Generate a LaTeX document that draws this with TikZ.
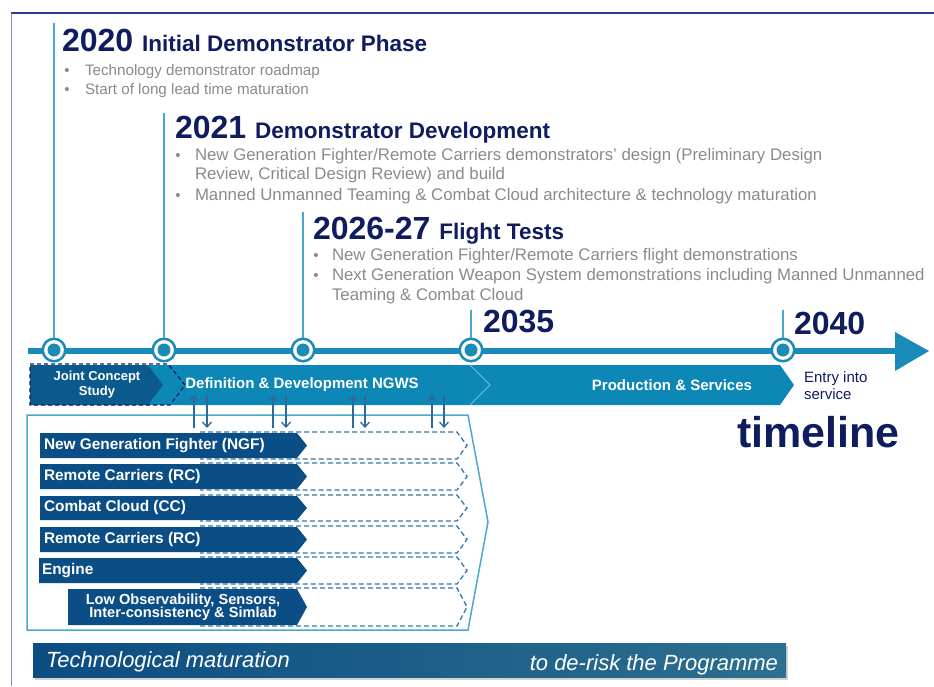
\documentclass[tikz,border=0pt]{standalone}
\usepackage{fontspec}
\setmainfont{Liberation Sans}
\usetikzlibrary{arrows.meta,shadows}
\definecolor{navy}{HTML}{0F1C5E}
\definecolor{tl}{HTML}{1A8AB8}
\definecolor{vline}{HTML}{45A6CE}
\definecolor{barc}{HTML}{0D87B5}
\definecolor{sepc}{HTML}{6CC0E0}
\definecolor{jcs}{HTML}{0B5A8E}
\definecolor{rowc}{HTML}{0B4E86}
\definecolor{grayt}{HTML}{8A8A8A}
\definecolor{dashc}{HTML}{2F78AD}
\definecolor{boxc}{HTML}{4AA8D0}
\definecolor{arrc}{HTML}{2D6A9C}
\definecolor{frametop}{HTML}{2B3A87}
\definecolor{frameleft}{HTML}{8888C0}
\definecolor{banl}{HTML}{0B4D82}
\definecolor{banr}{HTML}{2D6F8E}
\newcommand{\myfs}[1]{\fontsize{#1}{#1}\selectfont}
\begin{document}
\begin{tikzpicture}[x=1pt,y=-1pt,
  txt/.style={inner sep=0pt, outer sep=0pt},
  yearhead/.style={txt, anchor=base west, text=navy},
  bul/.style={txt, anchor=base west, text=grayt, font=\myfs{16.8}},
  bulsmall/.style={txt, anchor=base west, text=grayt, font=\myfs{15.2}},
  bulmark/.style={txt, anchor=base, text=grayt, font=\myfs{15}},
  rowlbl/.style={txt, anchor=west, text=white, font=\myfs{15.4}\bfseries},
  barlbl/.style={txt, text=white, font=\myfs{15}\bfseries},
  dotring/.style={circle, draw=tl, line width=2.5pt, fill=white, minimum size=22.5pt, inner sep=0pt},
  vl/.style={vline, line width=1.8pt},
  rowfill/.style={fill=rowc},
  rowdash/.style={draw=dashc, line width=1.3pt, dash pattern=on 5pt off 3pt},
  arr/.style={arrc, line width=1.3pt, -{Straight Barb[length=5pt,width=9pt]}},
  banner/.style={left color=banl, right color=banr, drop shadow={opacity=0.35, shadow xshift=2pt, shadow yshift=-3pt}},
]
\useasboundingbox (0,0) rectangle (934,686);
% frame
\draw[frametop, line width=1.5pt] (11,13) -- (934,13);
\draw[frameleft, line width=1pt] (11,13) -- (11,686);

% timeline axis
\coordinate (axs) at (28,351);
\coordinate (axe) at (900,351);
\draw[tl, line width=6pt] (axs) -- (axe);
\fill[tl] (895,332) -- (929,351) -- (895,371) -- cycle;

% vertical lines tops
\coordinate (v1) at (54,23);
\coordinate (v2) at (164,113);
\coordinate (v3) at (303,212);
\coordinate (v4) at (471,310);
\coordinate (v5) at (783,310);
\node[dotring] (c1) at (54,350) {};
\node[dotring] (c2) at (164,350) {};
\node[dotring] (c3) at (303,350) {};
\node[dotring] (c4) at (471,350) {};
\node[dotring] (c5) at (783,350) {};
\foreach \i in {1,...,5}{
  \draw[vl] (v\i) -- (c\i.north);
  \fill[tl] (c\i.center) circle (6.5);
}

% headings
\node[yearhead] (h1) at (62,51) {\myfs{32}\bfseries 2020\hspace{9pt}\myfs{22.5}Initial Demonstrator Phase};
\node[bulmark] (b11) at (67,75) {•};
\node[bulsmall] (t11) at (85,75) {Technology demonstrator roadmap};
\node[bulmark] (b12) at (67,94) {•};
\node[bulsmall] (t12) at (85,94) {Start of long lead time maturation};

\node[yearhead] (h2) at (175,138) {\myfs{32}\bfseries 2021\hspace{9pt}\myfs{22.5}Demonstrator Development};
\node[bulmark] (b21) at (178,160) {•};
\node[bul] (t21) at (195,160) {New Generation Fighter/Remote Carriers demonstrators’ design (Preliminary Design};
\node[bul] (t22) at (195,179) {Review, Critical Design Review) and build};
\node[bulmark] (b23) at (178,200) {•};
\node[bul] (t23) at (195,200) {Manned Unmanned Teaming \& Combat Cloud architecture \& technology maturation};

\node[yearhead] (h3) at (313,239) {\myfs{32}\bfseries 2026-27\hspace{9pt}\myfs{22.5}Flight Tests};
\node[bulmark] (b31) at (316,260) {•};
\node[bul] (t31) at (332,260) {New Generation Fighter/Remote Carriers flight demonstrations};
\node[bulmark] (b32) at (316,280) {•};
\node[bul] (t32) at (332,280) {Next Generation Weapon System demonstrations including Manned Unmanned};
\node[bul] (t33) at (332,300) {Teaming \& Combat Cloud};

\node[yearhead] (h4) at (483,332) {\myfs{32}\bfseries 2035};
\node[yearhead] (h5) at (794,334) {\myfs{32}\bfseries 2040};

% phase bar
\fill[barc] (30,365) -- (780,365) -- (794,385) -- (780,405) -- (30,405) -- cycle;
\draw[sepc, line width=1pt] (470,365) -- (490,385) -- (470,405);
\fill[jcs] (30,365) -- (148,365) -- (163,385) -- (148,405) -- (30,405) -- cycle;
\draw[navy, line width=1.2pt, dash pattern=on 4pt off 3pt] (30,364) -- (168,364) -- (185,385) -- (170,405) -- (30,405) -- cycle;
\node[barlbl, align=center, font=\myfs{13}\bfseries] (jcst) at (97,385) {Joint Concept\\[2pt]Study};
\node[barlbl] (ddt) at (302,385) {Definition \& Development NGWS};
\node[barlbl] (pst) at (672,385) {Production \& Services};
\node[txt, anchor=base west, text=navy, font=\myfs{15}] (eis1) at (804,382) {Entry into};
\node[txt, anchor=base west, text=navy, font=\myfs{15}] (eis2) at (804,399) {service};
\node[txt, anchor=base west, text=navy, font=\myfs{43}\bfseries] (tline) at (737,447) {timeline};

% outer box
\draw[boxc, line width=1.5pt] (27,415) -- (468,415) -- (488,522) -- (468,630) -- (27,630) -- cycle;

% rows
\foreach \t/\b/\xl in {433/458/40, 464/489/40, 496/520/40, 527/552/40, 558/583/39, 589/625/68}{
  \pgfmathsetmacro{\m}{(\t+\b)/2}
  \draw[rowdash] (200,\t-1) -- (457,\t-1) -- (467,\m) -- (457,\b+1) -- (200,\b+1);
  \fill[rowfill] (\xl,\t) -- (297,\t) -- (307,\m) -- (297,\b) -- (\xl,\b) -- cycle;
}
\node[rowlbl] (r1) at (44,445.5) {New Generation Fighter (NGF)};
\node[rowlbl] (r2) at (44,476.5) {Remote Carriers (RC)};
\node[rowlbl] (r3) at (44,508) {Combat Cloud (CC)};
\node[rowlbl] (r4) at (44,539.5) {Remote Carriers (RC)};
\node[rowlbl] (r5) at (42,570.5) {Engine};
\node[txt, text=white, align=center, font=\myfs{14.6}\bfseries] (r6) at (183,607) {Low Observability, Sensors,\\[-1.2pt]Inter-consistency \& Simlab};

% arrows
\foreach \xu/\xd [count=\k] in {194/207, 273/286, 353/365, 432/444}{
  \coordinate (u\k a) at (\xu,428);
  \coordinate (u\k b) at (\xu,395);
  \coordinate (d\k a) at (\xd,395);
  \coordinate (d\k b) at (\xd,428);
  \draw[arr] (u\k a) -- (u\k b);
  \draw[arr] (d\k a) -- (d\k b);
}

% banner
\path[banner] (33,643) rectangle (786,677);
\node[txt, anchor=base west, text=white, font=\myfs{22}\itshape] (ban1) at (46,667) {Technological maturation};
\node[txt, anchor=base east, text=white, font=\myfs{22}\itshape] (ban2) at (778,670) {to de-risk the Programme};
\end{tikzpicture}
\end{document}
